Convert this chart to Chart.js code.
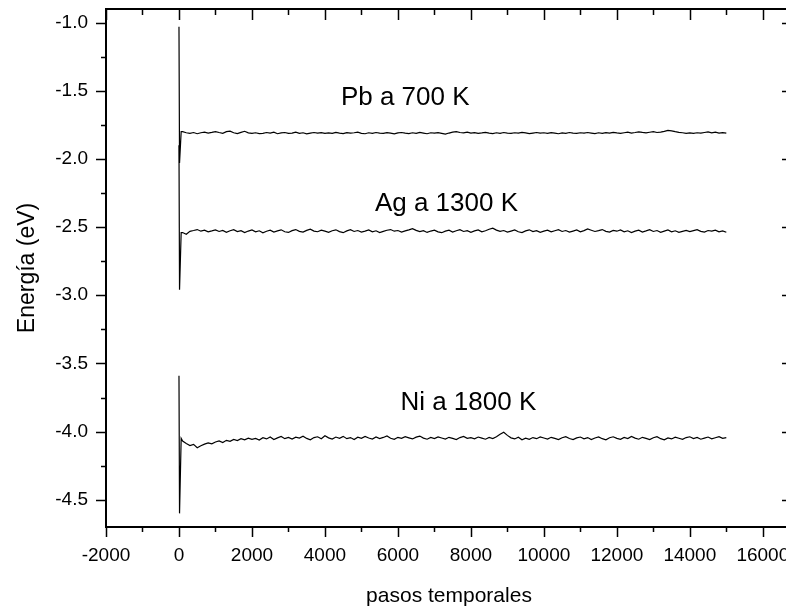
<!DOCTYPE html>
<html>
<head>
<meta charset="utf-8">
<script src="https://cdn.jsdelivr.net/npm/chart.js@4"></script>
<style>
  html, body { margin: 0; padding: 0; background: #fff; overflow: hidden; }
  #wrap { width: 786px; height: 609px; overflow: hidden; }
</style>
</head>
<body>
<div id="wrap"><canvas id="chart" width="800" height="609"></canvas></div>
<script>
// Time steps: first transient samples, then one sample every 100 steps up to 15000
const steps = [0, 15, 60];
for (let s = 100; s <= 15000; s += 100) steps.push(s);

const xTicks = [-2000, 0, 2000, 4000, 6000, 8000, 10000, 12000, 14000, 16000];
const yTicks = [-4.5, -4.0, -3.5, -3.0, -2.5, -2.0, -1.5, -1.0];

const seriesNames = ['Pb a 700 K', 'Ag a 1300 K', 'Ni a 1800 K'];

const pbEnergy = [
  -1.03, -2.03, -1.80,
  -1.800, -1.808, -1.812, -1.806, -1.815, -1.808, -1.803, -1.810, -1.805, -1.799,
  -1.806, -1.812, -1.800, -1.796, -1.808, -1.814, -1.805, -1.797, -1.809, -1.813,
  -1.808, -1.814, -1.812, -1.806, -1.810, -1.804, -1.815, -1.809, -1.806, -1.812,
  -1.810, -1.803, -1.812, -1.808, -1.816, -1.810, -1.806, -1.811, -1.807, -1.813,
  -1.809, -1.812, -1.805, -1.810, -1.814, -1.807, -1.811, -1.808, -1.804, -1.812,
  -1.815, -1.808, -1.812, -1.806, -1.810, -1.813, -1.807, -1.811, -1.816, -1.809,
  -1.806, -1.811, -1.814, -1.808, -1.812, -1.805, -1.810, -1.815, -1.808, -1.811,
  -1.807, -1.812, -1.818, -1.810, -1.803, -1.799, -1.806, -1.809, -1.804, -1.810,
  -1.807, -1.812, -1.809, -1.805, -1.811, -1.814, -1.808, -1.812, -1.806, -1.810,
  -1.813, -1.808, -1.811, -1.805, -1.809, -1.814, -1.810, -1.806, -1.811, -1.808,
  -1.812, -1.807, -1.810, -1.815, -1.809, -1.812, -1.806, -1.810, -1.813, -1.808,
  -1.811, -1.806, -1.810, -1.814, -1.808, -1.812, -1.807, -1.811, -1.805, -1.809,
  -1.812, -1.808, -1.804, -1.810, -1.806, -1.801, -1.805, -1.808, -1.804, -1.800,
  -1.806, -1.803, -1.798, -1.791, -1.794, -1.800, -1.805, -1.808, -1.812, -1.809,
  -1.813, -1.808, -1.811, -1.806, -1.802, -1.808, -1.804, -1.810, -1.807, -1.811
];

const agEnergy = [
  -1.90, -2.96, -2.54,
  -2.540, -2.552, -2.531, -2.525, -2.518, -2.530, -2.522, -2.535, -2.528, -2.520,
  -2.532, -2.524, -2.538, -2.527, -2.519, -2.533, -2.526, -2.540, -2.529, -2.521,
  -2.535, -2.527, -2.542, -2.530, -2.523, -2.536, -2.528, -2.520, -2.534, -2.539,
  -2.526, -2.518, -2.531, -2.537, -2.524, -2.515, -2.529, -2.534, -2.522, -2.530,
  -2.538, -2.527, -2.520, -2.533, -2.541, -2.528, -2.519, -2.532, -2.525, -2.536,
  -2.529, -2.521, -2.534, -2.527, -2.540, -2.531, -2.523, -2.518, -2.530, -2.525,
  -2.537, -2.528, -2.520, -2.511, -2.524, -2.533, -2.526, -2.539, -2.529, -2.522,
  -2.535, -2.541, -2.530, -2.523, -2.536, -2.527, -2.519, -2.532, -2.526, -2.538,
  -2.528, -2.521, -2.534, -2.527, -2.516, -2.508, -2.522, -2.531, -2.525, -2.537,
  -2.529, -2.521, -2.534, -2.540, -2.528, -2.520, -2.533, -2.526, -2.538, -2.530,
  -2.522, -2.535, -2.527, -2.519, -2.532, -2.525, -2.537, -2.529, -2.521, -2.534,
  -2.526, -2.514, -2.523, -2.532, -2.526, -2.518, -2.531, -2.537, -2.524, -2.530,
  -2.521, -2.534, -2.527, -2.540, -2.530, -2.523, -2.536, -2.528, -2.519, -2.532,
  -2.525, -2.538, -2.529, -2.521, -2.534, -2.527, -2.539, -2.531, -2.524, -2.533,
  -2.526, -2.519, -2.531, -2.537, -2.525, -2.530, -2.522, -2.535, -2.528, -2.538
];

const niEnergy = [
  -3.59, -4.60, -4.05,
  -4.070, -4.088, -4.102, -4.094, -4.118, -4.104, -4.092, -4.083, -4.090, -4.076,
  -4.068, -4.080, -4.064, -4.072, -4.058, -4.066, -4.052, -4.061, -4.048, -4.057,
  -4.050, -4.062, -4.045, -4.054, -4.040, -4.058, -4.046, -4.036, -4.052, -4.043,
  -4.055, -4.041, -4.048, -4.034, -4.050, -4.060, -4.044, -4.038, -4.052, -4.030,
  -4.046, -4.055, -4.040, -4.049, -4.035, -4.052, -4.044, -4.058, -4.041, -4.050,
  -4.036, -4.047, -4.055, -4.040, -4.051, -4.043, -4.032, -4.049, -4.057, -4.042,
  -4.050, -4.038, -4.046, -4.054, -4.041, -4.033, -4.048, -4.056, -4.043, -4.051,
  -4.039, -4.047, -4.055, -4.042, -4.050, -4.058, -4.044, -4.036, -4.049, -4.045,
  -4.053, -4.040, -4.048, -4.056, -4.043, -4.051, -4.038, -4.020, -4.005, -4.028,
  -4.046, -4.054, -4.041, -4.060, -4.049, -4.057, -4.044, -4.052, -4.039, -4.047,
  -4.055, -4.042, -4.050, -4.058, -4.045, -4.037, -4.051, -4.059, -4.046, -4.040,
  -4.053, -4.044, -4.058, -4.047, -4.039, -4.052, -4.060, -4.045, -4.038, -4.050,
  -4.057, -4.043, -4.051, -4.036, -4.048, -4.056, -4.042, -4.050, -4.058, -4.045,
  -4.037, -4.052, -4.060, -4.046, -4.054, -4.041, -4.049, -4.057, -4.044, -4.038,
  -4.051, -4.043, -4.056, -4.048, -4.040, -4.053, -4.045, -4.037, -4.050, -4.044
];

const FONT = '"Liberation Sans", Arial, sans-serif';

function toPoints(vals) {
  return vals.map((v, i) => ({ x: steps[i], y: v }));
}

function makeSet(label, vals) {
  return {
    label: label,
    data: toPoints(vals),
    borderColor: '#000',
    borderWidth: 1.2,
    pointRadius: 0,
    tension: 0,
    fill: false
  };
}

// frame, mirrored ticks (outward bottom/left, inward top/right) and series labels
const framePlugin = {
  id: 'frame',
  afterDraw(chart) {
    const { ctx, chartArea: a, scales: { x, y } } = chart;
    ctx.save();
    ctx.strokeStyle = '#000';
    ctx.lineWidth = 1.5;
    ctx.beginPath();
    for (let v = -2000; v <= 16000; v += 1000) {
      const px = Math.round(x.getPixelForValue(v)) + 0.5;
      const major = v % 2000 === 0;
      ctx.moveTo(px, a.bottom); ctx.lineTo(px, a.bottom + (major ? 10 : 5));
      ctx.moveTo(px, a.top); ctx.lineTo(px, a.top + (major ? 11 : 6));
    }
    for (let k = 0; k <= 14; k++) {
      const v = -4.5 + k * 0.25;
      const py = Math.round(y.getPixelForValue(v)) + 0.5;
      const major = k % 2 === 0;
      ctx.moveTo(a.left, py); ctx.lineTo(a.left - (major ? 10 : 5), py);
      ctx.moveTo(a.right, py); ctx.lineTo(a.right - (major ? 10 : 5), py);
    }
    ctx.stroke();
    ctx.lineWidth = 2;
    ctx.strokeRect(a.left, a.top, a.right - a.left, a.bottom - a.top);

    const labelPos = [[6200, -1.55], [7330, -2.33], [7930, -3.79]];
    ctx.fillStyle = '#000';
    ctx.font = '26px ' + FONT;
    ctx.textAlign = 'center';
    ctx.textBaseline = 'middle';
    seriesNames.forEach((name, i) => {
      ctx.fillText(name, x.getPixelForValue(labelPos[i][0]), y.getPixelForValue(labelPos[i][1]));
    });
    ctx.restore();
  }
};

new Chart(document.getElementById('chart'), {
  type: 'line',
  data: {
    datasets: [
      makeSet(seriesNames[0], pbEnergy),
      makeSet(seriesNames[1], agEnergy),
      makeSet(seriesNames[2], niEnergy)
    ]
  },
  options: {
    responsive: false,
    animation: false,
    layout: { padding: { top: 9, right: 8, left: 0, bottom: 0 } },
    plugins: { legend: { display: false }, tooltip: { enabled: false } },
    scales: {
      x: {
        type: 'linear',
        min: -2000,
        max: 16800,
        afterBuildTicks: s => { s.ticks = xTicks.map(v => ({ value: v })); },
        afterFit: s => { s.height = 82; s.paddingLeft = 0; s.paddingRight = 0; },
        grid: { display: false, drawTicks: false },
        border: { display: false },
        ticks: {
          color: '#000',
          font: { family: FONT, size: 19 },
          padding: 17,
          maxRotation: 0,
          callback: v => String(v)
        },
        title: {
          display: true,
          text: 'pasos temporales',
          color: '#000',
          font: { family: FONT, size: 21 },
          padding: { top: 0, bottom: 0 }
        }
      },
      y: {
        type: 'linear',
        min: -4.7,
        max: -0.9,
        afterBuildTicks: s => { s.ticks = yTicks.map(v => ({ value: v })); },
        afterFit: s => { s.width = 106; s.paddingTop = 0; s.paddingBottom = 0; },
        grid: { display: false, drawTicks: false },
        border: { display: false },
        ticks: {
          color: '#000',
          font: { family: FONT, size: 19 },
          padding: 18,
          callback: v => v.toFixed(1)
        },
        title: {
          display: true,
          text: 'Energía (eV)',
          color: '#000',
          font: { family: FONT, size: 23 },
          padding: { top: 14, bottom: 0 }
        }
      }
    }
  },
  plugins: [framePlugin]
});
</script>
</body>
</html>
